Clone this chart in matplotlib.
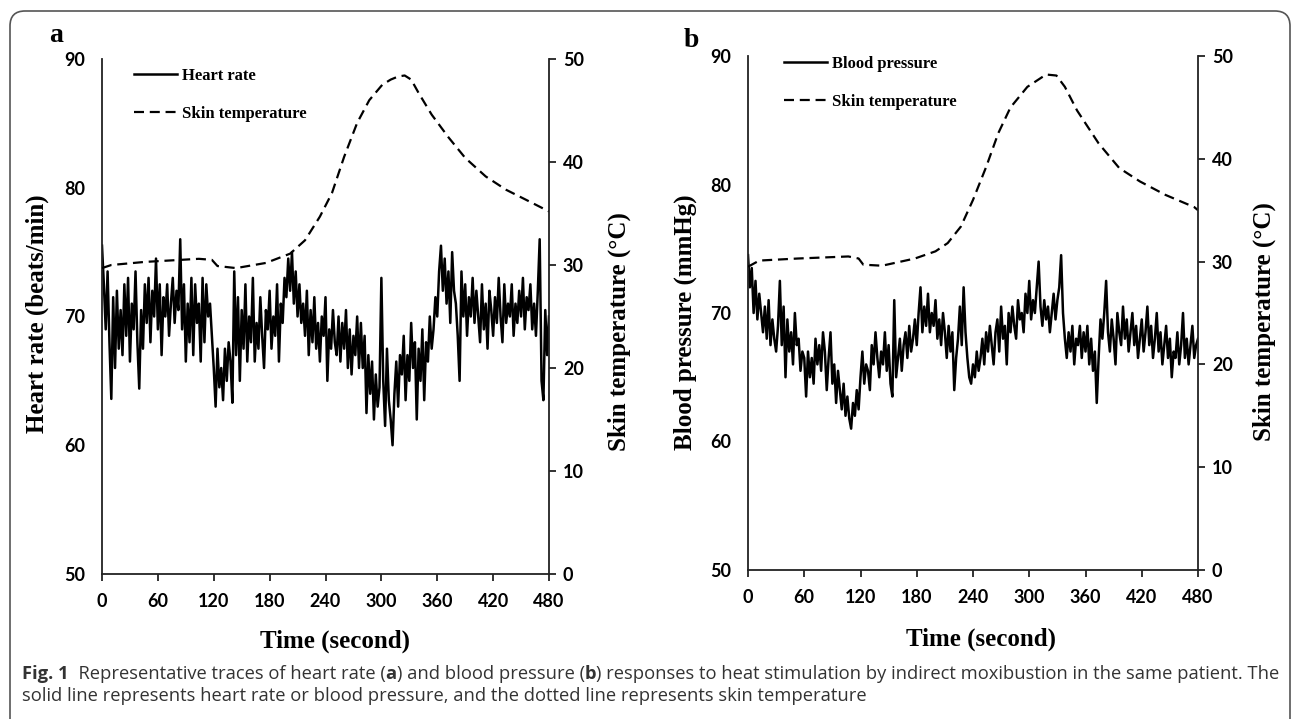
import numpy as np
import matplotlib.pyplot as plt
from matplotlib.patches import FancyBboxPatch

plt.rcParams['font.family'] = ['Lato', 'DejaVu Sans']
plt.rcParams['font.weight'] = 'bold'
SERIF = 'Liberation Serif'

# samples every 2 s, 0..480 s
heart_rate = [
    75.5, 72.5, 69.0, 73.5, 68.0, 63.6, 71.5, 66.0, 72.0, 67.5,
    70.5, 67.0, 72.5, 68.5, 73.0, 66.5, 71.0, 69.0, 73.5, 68.0,
    64.4, 70.5, 67.5, 72.5, 69.5, 73.0, 68.0, 72.0, 70.0, 74.5,
    69.0, 72.5, 67.0, 71.5, 70.0, 72.5, 68.5, 71.0, 73.0, 69.5,
    72.0, 70.5, 76.0, 69.0, 72.5, 66.5, 71.0, 68.0, 73.0, 67.0,
    72.5, 69.5, 71.0, 66.5, 73.0, 68.0, 72.5, 70.0, 71.0, 68.5,
    66.0, 63.0, 67.5, 64.5, 66.0, 63.5, 67.5, 65.0, 68.0, 66.5,
    63.3, 73.5, 67.0, 71.5, 65.0, 70.5, 67.5, 72.5, 66.5, 70.0,
    68.0, 73.0, 66.5, 69.5, 67.5, 71.5, 68.5, 66.0, 70.5, 69.0,
    72.0, 67.5, 70.0, 68.5, 72.5, 66.5, 71.0, 69.5, 73.0, 71.5,
    74.5, 72.0, 75.0, 71.0, 73.5, 70.0, 72.5, 69.5, 71.0, 68.5,
    72.0, 67.0, 70.5, 68.0, 71.5, 67.5, 69.5, 66.5, 70.0, 68.5,
    71.5, 65.0, 69.0, 67.5, 70.5, 68.0, 67.0, 70.0, 66.5, 69.5,
    67.5, 70.5, 66.0, 69.0, 65.5, 68.5, 67.0, 70.0, 66.0, 69.5,
    66.0, 68.5, 62.5, 67.0, 64.0, 66.5, 62.0, 65.5, 63.0, 64.5,
    73.0, 65.0, 61.5, 67.5, 63.5, 62.0, 60.0, 64.0, 66.5, 63.0,
    67.0, 65.5, 68.5, 63.5, 67.0, 65.0, 69.5, 66.0, 68.0, 62.0,
    67.5, 65.0, 69.0, 63.5, 68.0, 66.5, 70.0, 67.5, 69.0, 71.5,
    70.0, 73.5, 75.5, 72.0, 74.5, 71.0, 73.5, 69.5, 75.0, 72.0,
    71.0, 68.5, 65.0, 73.5, 70.0, 72.5, 68.5, 71.5, 70.0, 73.0,
    69.5, 72.0, 70.0, 68.0, 72.5, 69.0, 71.0, 67.5, 72.0, 70.5,
    68.5, 71.5, 69.5, 73.0, 70.0, 68.0, 72.5, 69.5, 71.0, 70.0,
    72.5, 68.5, 71.0, 69.5, 72.0, 70.0, 73.0, 69.0, 71.5, 70.5,
    72.5, 69.0, 71.0, 68.5, 72.0, 76.0, 65.0, 63.5, 70.5, 67.0,
    70.0,
]

blood_pressure = [
    74.5, 72.0, 73.5, 70.0, 72.5, 69.5, 71.5, 70.0, 68.5, 70.5,
    68.0, 71.0, 67.5, 69.5, 68.0, 67.0, 69.0, 72.5, 67.5, 70.5,
    65.0, 69.5, 67.0, 68.5, 66.0, 70.0, 67.5, 68.0, 65.5, 67.0,
    66.5, 63.5, 67.0, 65.0, 66.5, 64.5, 68.0, 66.0, 67.5, 65.5,
    68.5, 67.0, 64.0, 66.5, 68.5, 64.5, 66.0, 63.0, 65.5, 64.0,
    62.5, 64.5, 62.0, 63.5, 61.8, 61.0, 63.0, 62.0, 64.0, 62.5,
    65.0, 67.0, 64.5, 66.0, 65.5, 64.0, 67.5, 66.0, 68.5, 66.5,
    65.0, 67.0, 66.0, 68.5, 65.5, 67.5, 64.5, 63.5, 71.0, 65.0,
    66.5, 68.0, 65.5, 67.5, 68.5, 66.5, 69.0, 67.0, 68.0, 69.5,
    67.5, 70.0, 72.0, 68.5, 70.5, 69.0, 71.5, 68.5, 70.0, 69.0,
    71.0, 68.0, 69.5, 67.5, 70.0, 68.5, 66.5, 69.0, 67.0, 68.5,
    64.0, 66.5, 68.0, 70.5, 67.5, 72.0, 68.5, 66.5, 65.0, 64.5,
    66.0, 65.0, 67.0, 65.5, 66.5, 68.0, 66.0, 68.5, 67.0, 69.0,
    67.5, 66.0, 68.5, 69.5, 67.0, 70.5, 68.0, 69.0, 66.0, 70.0,
    68.5, 70.5, 69.0, 68.0, 71.0, 69.5, 70.0, 68.5, 71.5, 70.0,
    72.5, 69.5, 71.0, 70.0, 72.0, 74.0, 70.5, 69.0, 71.0, 69.5,
    70.5, 68.5, 70.0, 71.5, 69.5, 71.0, 72.0, 74.5, 70.0, 68.0,
    66.5, 68.5, 67.0, 69.0, 66.0, 68.0, 67.5, 69.0, 66.5, 68.5,
    67.0, 69.0, 66.0, 68.0, 65.5, 67.0, 63.0, 66.5, 69.5, 68.0,
    70.0, 72.5, 68.5, 67.0, 69.5, 68.0, 66.0, 70.0, 68.5, 67.5,
    70.5, 68.0, 69.5, 67.0, 68.5, 70.0, 67.5, 69.0, 66.5, 68.0,
    69.5, 67.0, 68.5, 70.5, 67.5, 69.0, 66.5, 68.0, 70.0, 67.0,
    68.5, 66.0, 67.5, 69.0, 66.5, 68.0, 65.0, 67.0, 66.5, 68.5,
    66.0, 67.5, 70.0, 66.5, 68.0, 66.0, 67.5, 69.0, 66.5, 67.5,
    68.0,
]

sample_time = np.arange(len(heart_rate)) * 2

temp_time_a = [0, 10, 46, 104, 118, 124, 144, 176, 202, 218, 234, 247, 260,
               274, 287, 301, 310, 318, 325, 332, 340, 354, 372, 390, 412,
               434, 456, 480]
temp_a = [29.7, 30.0, 30.3, 30.6, 30.5, 29.9, 29.7, 30.2, 31.1, 32.4, 34.7,
          37.0, 40.5, 43.8, 46.0, 47.5, 48.0, 48.3, 48.4, 48.0, 46.7, 44.6,
          42.4, 40.4, 38.6, 37.3, 36.3, 35.2]

temp_time_b = [0, 12, 53, 107, 118, 123, 143, 178, 200, 213, 227, 240, 254,
               267, 280, 298, 318, 329, 338, 351, 374, 396, 418, 445, 476, 480]
temp_b = [29.5, 30.1, 30.3, 30.5, 30.3, 29.7, 29.6, 30.3, 31.0, 31.8, 33.4,
          36.0, 39.2, 42.5, 45.0, 47.0, 48.2, 48.1, 47.0, 44.7, 41.5, 39.1,
          37.8, 36.5, 35.3, 35.0]

x_ticks = list(range(0, 481, 60))
left_ticks = list(range(50, 91, 10))
right_ticks = list(range(0, 51, 10))

fig = plt.figure(figsize=(12.93, 7.19), dpi=100)


def panel(rect, values, name, ylabel, ttime, temp, ylab_pos, rlab_pos,
          tlab_pos, leg_anchor):
    ax = fig.add_axes(rect)
    ax2 = ax.twinx()
    l1, = ax.plot(sample_time, values, color='black', lw=1.8)
    l2, = ax2.plot(ttime, temp, color='black', lw=1.6, ls=(0, (4.5, 2.6)))
    ax.set_xlim(0, 480)
    ax.set_ylim(50, 90)
    ax2.set_ylim(0, 50)
    ax.set_xticks(x_ticks)
    ax.set_yticks(left_ticks)
    ax2.set_yticks(right_ticks)
    for s in ['top', 'right']:
        ax.spines[s].set_visible(False)
    for s in ['top', 'left', 'bottom']:
        ax2.spines[s].set_visible(False)
    for sp in list(ax.spines.values()) + list(ax2.spines.values()):
        sp.set_linewidth(1.3)
        sp.set_color('#222222')
    ax.tick_params(axis='y', length=0, pad=12, labelsize=13)
    ax.tick_params(axis='x', length=5, width=1.3, pad=9, labelsize=13,
                   color='#222222')
    ax2.tick_params(axis='y', length=5, width=1.3, pad=5, labelsize=13,
                    color='#222222')
    ax.set_ylabel(ylabel, family=SERIF, weight='bold', fontsize=18)
    ax.yaxis.set_label_coords(*ylab_pos)
    ax2.set_ylabel('Skin temperature (°C)', family=SERIF, weight='bold',
                   fontsize=18)
    ax2.yaxis.set_label_coords(*rlab_pos)
    ax.text(tlab_pos[0], tlab_pos[1], 'Time (second)', transform=ax.transAxes,
            ha='center', va='center', family=SERIF, weight='bold', fontsize=18)
    ax2.legend([l1, l2], [name, 'Skin temperature'], loc='upper left',
               bbox_to_anchor=leg_anchor, frameon=False,
               prop=dict(family=SERIF, weight='bold', size=12),
               handlelength=2.6, handletextpad=0.3, labelspacing=1.3,
               borderpad=0, borderaxespad=0)
    return ax


panel([102 / 1293, 1 - 574 / 719, 447 / 1293, 515 / 719], heart_rate,
      'Heart rate', 'Heart rate (beats/min)', temp_time_a, temp_a,
      (-0.119, 0.505), (1.130, 0.47), (0.521, -0.130), (0.0716, 0.982))
panel([748 / 1293, 1 - 570 / 719, 450 / 1293, 514 / 719], blood_pressure,
      'Blood pressure', 'Blood pressure (mmHg)', temp_time_b, temp_b,
      (-0.113, 0.482), (1.122, 0.484), (0.518, -0.134), (0.08, 1.0))

fig.text(49 / 1293, 1 - 42 / 719, 'a', family=SERIF, weight='bold',
         fontsize=20, va='baseline')
fig.text(684 / 1293, 1 - 47 / 719, 'b', family=SERIF, weight='bold',
         fontsize=20, va='baseline')

# outer rounded frame
frame = FancyBboxPatch((0.10, -1.0), 12.80, 8.08,
                       boxstyle='round,pad=0,rounding_size=0.15',
                       transform=fig.dpi_scale_trans, fill=False,
                       ec='#555555', lw=1.2)
fig.add_artist(frame)

# caption
line1 = [('Fig. 1', 'bold'),
         ('  Representative traces of heart rate (', 'normal'),
         ('a', 'bold'),
         (') and blood pressure (', 'normal'),
         ('b', 'bold'),
         (') responses to heat stimulation by indirect moxibustion in the '
          'same patient. The', 'normal')]
line2 = [('solid line represents heart rate or blood pressure, and the dotted '
          'line represents skin temperature', 'normal')]

renderer = fig.canvas.get_renderer()


def put_runs(runs, x_px, base_px, size):
    x = x_px
    for s, w in runs:
        t = fig.text(x / 100, (719 - base_px) / 100, s, fontsize=size,
                     weight=w, family=['Open Sans', 'DejaVu Sans'],
                     color='#333333', va='baseline',
                     transform=fig.dpi_scale_trans)
        x += t.get_window_extent(renderer).width
    return x - x_px


probe = put_runs(line1, 0, -100, 10)
for t in fig.texts[-len(line1):]:
    t.remove()
cap_size = 10 * 1258 / probe

put_runs(line1, 22, 679, cap_size)
put_runs(line2, 22, 701, cap_size)

fig.savefig('out.png', dpi=100)
